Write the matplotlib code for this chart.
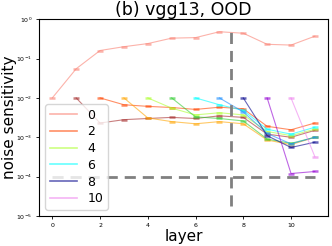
import matplotlib
matplotlib.use('Agg')
import matplotlib.pyplot as plt

layers = list(range(12))

# noise sensitivity per starting layer (series k starts at layer k)
sens = {
    0: [1e-2, 0.055, 0.16, 0.20, 0.24, 0.33, 0.34, 0.48, 0.44, 0.23, 0.22, 0.37],
    1: [1e-2, 2.3e-3, 2.8e-3, 3.0e-3, 3.2e-3, 3.0e-3, 3.5e-3, 3.2e-3, 1.2e-3, 1.0e-3, 1.5e-3],
    2: [1e-2, 6.7e-3, 6.1e-3, 5.7e-3, 5.1e-3, 5.8e-3, 5.3e-3, 1.9e-3, 1.55e-3, 2.3e-3],
    3: [1e-2, 3.1e-3, 2.5e-3, 2.2e-3, 2.5e-3, 2.2e-3, 0.85e-3, 0.65e-3, 1.0e-3],
    4: [1e-2, 5.5e-3, 3.7e-3, 4.2e-3, 3.7e-3, 1.4e-3, 1.1e-3, 1.6e-3],
    5: [1e-2, 3.3e-3, 3.0e-3, 2.6e-3, 0.9e-3, 0.7e-3, 1.0e-3],
    6: [1e-2, 6.7e-3, 4.8e-3, 1.6e-3, 1.2e-3, 1.8e-3],
    7: [1e-2, 4.4e-3, 1.25e-3, 0.68e-3, 1.0e-3],
    8: [1e-2, 1.1e-3, 0.55e-3, 0.75e-3],
    9: [1e-2, 1.2e-4, 1.35e-4],
    10: [1e-2, 3.2e-4],
}
colors = ['salmon', 'brown', 'orangered', 'orange', 'greenyellow', 'limegreen',
          'cyan', 'dodgerblue', 'darkblue', 'darkviolet', 'violet']

fig = plt.figure(figsize=(3.32, 2.46), dpi=100)
ax = fig.add_axes([0.118, 0.122, 0.870, 0.800])

for k, ys in sens.items():
    xs = layers[k:k + len(ys)]
    lab = str(k) if k % 2 == 0 else None
    ax.plot(xs, ys, color=colors[k], alpha=0.6, lw=0.8, marker='_',
            markersize=5, markeredgewidth=1.8, label=lab)

ax.plot([7.5, 7.5], [1.8e-5, 0.55], ls='--', color='gray', lw=2, dashes=(4, 2.5))
ax.plot([0, 11], [1e-4, 1e-4], ls='--', color='gray', lw=2, dashes=(4, 2.5))

ax.set_yscale('log')
ax.set_ylim(1e-5, 1)
ax.set_xlim(-0.55, 11.55)
ax.set_xticks([0, 2, 4, 6, 8, 10])
ax.tick_params(labelsize=4.5, length=2.5, width=0.6, pad=2.5)
ax.tick_params(which='minor', length=0)
ax.set_title('(b) vgg13, OOD', fontsize=12.5, pad=2)
ax.set_xlabel('layer', fontsize=11, labelpad=1)
ax.set_ylabel('noise sensitivity', fontsize=11)
ax.yaxis.set_label_coords(-0.078, 0.5)
leg = ax.legend(loc='lower left', fontsize=9, handlelength=2.2, borderaxespad=0.5,
                labelspacing=0.3, handletextpad=0.8, borderpad=0.35)
for h in leg.get_lines():
    h.set_marker('')
    h.set_linewidth(1.2)

fig.savefig('out.png', dpi=100)
